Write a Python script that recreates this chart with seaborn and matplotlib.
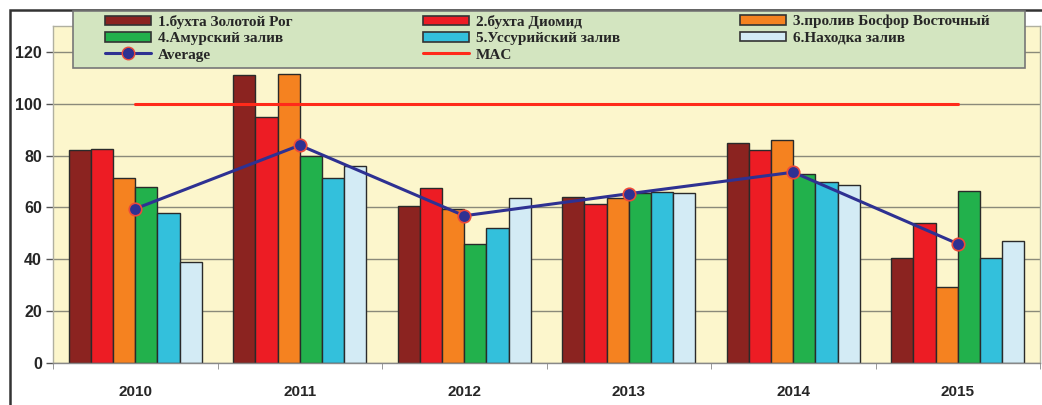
import matplotlib
matplotlib.use("Agg")
import matplotlib.pyplot as plt
import seaborn as sns
import pandas as pd
from matplotlib.patches import Patch, Rectangle
from matplotlib.lines import Line2D

years = ["2010", "2011", "2012", "2013", "2014", "2015"]
sites = ["1.бухта Золотой Рог", "2.бухта Диомид", "3.пролив Босфор Восточный",
         "4.Амурский залив", "5.Уссурийский залив", "6.Находка залив"]
zolotoy_rog = [82, 111, 60.5, 64, 85, 40.5]
diomid = [82.5, 95, 67.5, 61.5, 82, 54]
bosfor = [71.5, 111.5, 59.5, 63.5, 86, 29.5]
amursky = [68, 80, 46, 65.5, 73, 66.5]
ussuriysky = [58, 71.5, 52, 66, 70, 40.5]
nakhodka = [39, 76, 63.5, 65.5, 68.5, 47]
average = [59.5, 84, 56.8, 65.3, 73.6, 46]
mac = [100, 100, 100, 100, 100, 100]

series = [zolotoy_rog, diomid, bosfor, amursky, ussuriysky, nakhodka]
colors = ["#8b2320", "#ed1c24", "#f58220", "#22b14c", "#33c0dc", "#d3ebf5"]

rows = []
for s, vals in zip(sites, series):
    for y, v in zip(years, vals):
        rows.append({"year": y, "site": s, "value": v})
df = pd.DataFrame(rows)

sns.set_style("white")
plt.rcParams["font.family"] = ["Liberation Sans", "DejaVu Sans"]

fig = plt.figure(figsize=(10.42, 4.05), dpi=100)
ax = fig.add_axes([53/1042, 42/405, (1040-53)/1042, (363-26)/405])
ax.set_facecolor("#fcf6cc")

ax.set_axisbelow(True)
ax.yaxis.grid(True, color="#8a8a7a", linewidth=1.0)

sns.barplot(data=df, x="year", y="value", hue="site", hue_order=sites,
            palette=colors, width=0.81, edgecolor="#2a2a2a", linewidth=1.0,
            saturation=1, ax=ax, legend=False, errorbar=None)

sns.pointplot(x=years, y=mac, color="#ff2a1a", markers="", linestyles="-",
              errorbar=None, ax=ax, linewidth=2.2, zorder=5)
sns.pointplot(x=years, y=average, color="#2e3192", markers="o", linestyles="-",
              errorbar=None, ax=ax, linewidth=2.2, markersize=9,
              markerfacecolor="#2e3192", markeredgecolor="#ed4a3a",
              markeredgewidth=1.2, zorder=6)

ax.set_xlim(-0.5, 5.5)
ax.set_ylim(0, 130)
ax.set_yticks([0, 20, 40, 60, 80, 100, 120])
ax.set_xlabel("")
ax.set_ylabel("")
for lab in ax.get_yticklabels():
    lab.set_fontweight("bold")
    lab.set_fontsize(11.5)
for lab in ax.get_xticklabels():
    lab.set_fontweight("bold")
    lab.set_fontsize(11)
ax.tick_params(axis="y", length=5, width=1, color="#555555", pad=3, left=True)
ax.tick_params(axis="x", length=0, pad=16)
ax.set_xticks([i - 0.5 for i in range(7)], minor=True)
ax.tick_params(axis="x", which="minor", length=4, color="#888888", bottom=True)

for sp in ["left", "bottom", "top", "right"]:
    ax.spines[sp].set_color("#b0b0a0")
    ax.spines[sp].set_linewidth(1)
ax.spines["bottom"].set_color("#888888")

# legend background box
fig.patches.append(Rectangle((73/1042, 1 - 68/405), 952/1042, 57/405,
                             transform=fig.transFigure, facecolor="#d3e5c0",
                             edgecolor="#777777", linewidth=1.2, zorder=3))

handles = [Patch(facecolor=c, edgecolor="#333333", linewidth=1.2) for c in colors]
avg_h = Line2D([], [], color="#2e3192", linewidth=2.2, marker="o", markersize=9,
               markerfacecolor="#2e3192", markeredgecolor="#ed4a3a")
mac_h = Line2D([], [], color="#ff2a1a", linewidth=2.2)
columns = [
    ([handles[0], handles[3], avg_h], [sites[0], sites[3], "Average"], 105),
    ([handles[1], handles[4], mac_h], [sites[1], sites[4], "MAC"], 423),
    ([handles[2], handles[5]], [sites[2], sites[5]], 740),
]
for hs, ls, xpx in columns:
    leg = fig.legend(hs, ls, loc="upper left",
                     bbox_to_anchor=(xpx/1042, 1 - 15/405),
                     bbox_transform=fig.transFigure, frameon=False,
                     handlelength=3.0, handleheight=0.6, labelspacing=0.2,
                     borderpad=0, borderaxespad=0, handletextpad=0.45,
                     prop={"family": ["Liberation Serif"], "weight": "bold", "size": 11})
    leg.set_zorder(6)

fig.patches.append(Rectangle((10/1042, -0.1), 1.2, (405-10)/405 + 0.1,
                             transform=fig.transFigure, fill=False,
                             edgecolor="#333333", linewidth=1.8, zorder=0))

fig.savefig("out.png", dpi=100)
